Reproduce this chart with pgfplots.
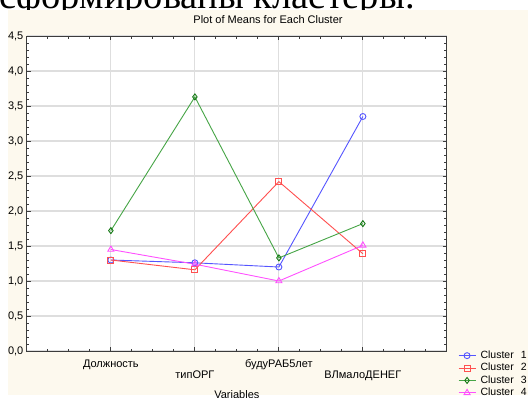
\documentclass[border=0pt]{standalone}
\usepackage{fontspec}
\setmainfont{Liberation Sans}
\newfontfamily\serifcyr{Liberation Serif}
\usepackage{pgfplots}
\pgfplotsset{compat=1.18}
\definecolor{panel}{RGB}{253,249,238}
\definecolor{gridgray}{RGB}{222,222,222}
\definecolor{axisgray}{RGB}{60,60,60}
\definecolor{cblue}{RGB}{85,85,255}
\definecolor{cred}{RGB}{255,80,80}
\definecolor{cgreen}{RGB}{70,165,70}
\definecolor{cgreenmark}{RGB}{20,120,20}
\definecolor{cmag}{RGB}{255,80,255}

\begin{document}
\begin{tikzpicture}[x=1pt,y=1pt]
\useasboundingbox (0,0) rectangle (528,397);
% tail of the preceding text line, cut by the page edge
\begin{scope}
  \clip (0,0) rectangle (528,397);
  \node[anchor=base west, inner sep=0, text depth=0pt,
        font=\serifcyr\fontsize{38.5}{43}\selectfont] at (-1,388) {сформированы кластеры.};
\end{scope}
% chart panel
\fill[panel] (8,2) rectangle (528,387);
\node[font=\fontsize{11}{13}\selectfont, anchor=base, inner sep=0pt] at (268,373) {Plot of Means for Each Cluster};

\begin{axis}[
  at={(32,65.7)}, anchor=south west, scale only axis,
  width=420pt, height=315pt,
  xmin=0, xmax=5, ymin=0, ymax=4.5,
  xtick={0,1,2,3,4,5},
  xticklabels={,Должность,,будуРАБ5лет,,},
  extra x ticks={2,4},
  extra x tick labels={типОРГ,ВЛмалоДЕНЕГ},
  extra x tick style={grid=major, xticklabel style={yshift=-11pt}},
  ytick={0,0.5,1,1.5,2,2.5,3,3.5,4,4.5},
  minor x tick num=3, minor y tick num=4,
  tick align=inside, major tick length=4pt, minor tick length=2.5pt,
  grid=major, major grid style={gridgray, line width=1.2pt},
  axis line style={axisgray, line width=1pt},
  tick style={axisgray, line width=0.8pt},
  axis background/.style={fill=white},
  ticklabel style={font=\fontsize{11}{13}\selectfont},
  /pgf/number format/assume math mode=true,
  yticklabel style={/pgf/number format/fixed, /pgf/number format/fixed zerofill,
    /pgf/number format/precision=1, /pgf/number format/use comma},
  xticklabel style={anchor=base, yshift=-16.7pt},
  xlabel={Variables},
  xlabel style={at={(axis description cs:0.5,0)}, anchor=base, yshift=-47.7pt,
    inner sep=0pt, font=\fontsize{11}{13}\selectfont},
  legend style={at={(axis description cs:1,0)}, anchor=north west,
    xshift=8pt, yshift=3.3pt, draw=none, fill=none,
    font=\fontsize{10.5}{12}\selectfont, row sep=0.9pt,
    nodes={inner sep=0.5pt, text height=8pt, text depth=2.5pt},
    /tikz/every odd column/.append style={column sep=4pt}},
  legend cell align=left,
]
\addplot[cblue, line width=0.9pt, mark=o, mark size=3pt, mark options={solid}]
  coordinates {(1,1.30) (2,1.26) (3,1.20) (4,3.35)};
\addplot[cred, line width=0.9pt, mark=square, mark size=3pt, mark options={solid}]
  coordinates {(1,1.30) (2,1.16) (3,2.42) (4,1.39)};
\addplot[cgreen, line width=0.9pt, mark=diamond, mark size=3pt, mark options={solid, draw=cgreenmark}]
  coordinates {(1,1.72) (2,3.63) (3,1.33) (4,1.82)};
\addplot[cmag, line width=0.9pt, mark=triangle, mark size=3.5pt, mark options={solid}]
  coordinates {(1,1.45) (2,1.24) (3,1.00) (4,1.51)};
\legend{Cluster\hspace{7pt}1, Cluster\hspace{7pt}2, Cluster\hspace{7pt}3, Cluster\hspace{7pt}4}
\end{axis}
\end{tikzpicture}
\end{document}
